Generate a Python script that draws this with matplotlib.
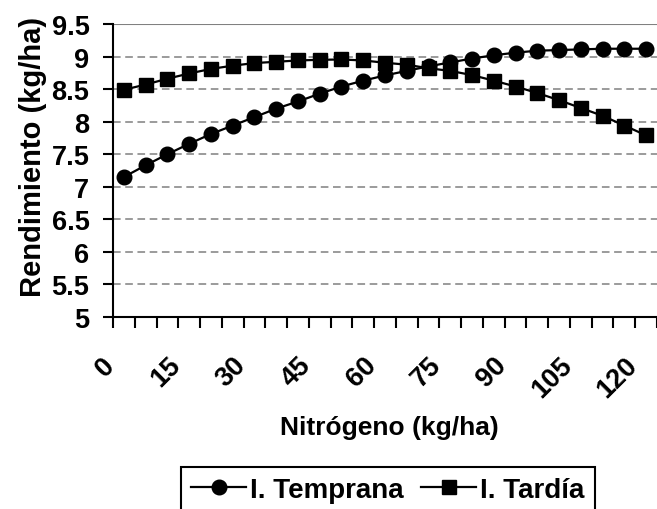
import matplotlib
matplotlib.use("Agg")
import matplotlib.pyplot as plt
import matplotlib.transforms as mtransforms

plt.rcParams['font.family'] = ['Liberation Sans', 'DejaVu Sans']
plt.rcParams['font.weight'] = 'bold'

# nitrogen doses (kg/ha), one category every 5
nitrogeno = list(range(0, 125, 5))
x_labels = [str(n) if n % 15 == 0 else '' for n in nitrogeno]

# yield (kg/ha)
temprana = [7.15, 7.33, 7.50, 7.66, 7.81, 7.94, 8.07, 8.20, 8.31, 8.43,
            8.54, 8.63, 8.71, 8.78, 8.85, 8.91, 8.97, 9.02, 9.06, 9.09,
            9.10, 9.11, 9.12, 9.12, 9.12]
tardia = [8.49, 8.57, 8.66, 8.74, 8.81, 8.86, 8.90, 8.92, 8.94, 8.95,
          8.955, 8.94, 8.905, 8.875, 8.82, 8.78, 8.715, 8.63, 8.54, 8.44,
          8.33, 8.21, 8.09, 7.94, 7.79]

y_ticks = [5, 5.5, 6, 6.5, 7, 7.5, 8, 8.5, 9, 9.5]

W, H = 657, 510
fig = plt.figure(figsize=(W / 100, H / 100), dpi=100)
ax = fig.add_axes([113 / W, 1 - 318 / H, (W - 113) / W, (318 - 25) / H])

pos = list(range(len(nitrogeno)))

# dashed gridlines, solid gray top border
for yv in y_ticks[1:-1]:
    ax.axhline(yv, color='#808080', lw=1.1, ls=(0, (5, 3)), zorder=1)
ax.axhline(9.5, color='#808080', lw=1.5, zorder=1)

ax.plot(pos, temprana, color='black', lw=1.6, marker='o', markersize=10.5,
        label='I. Temprana', clip_on=False, zorder=3)
ax.plot(pos, tardia, color='black', lw=1.6, marker='s', markersize=10,
        label='I. Tardía', clip_on=False, zorder=3)

ax.set_xlim(-0.5, -0.5 + (W - 113) / 22.0)
ax.set_ylim(5, 9.5)

# category axis: tick marks between categories, labels on categories
ax.set_xticks([p - 0.5 for p in pos] + [len(pos) - 0.5])
ax.set_xticklabels([])
ax.set_xticks(pos, minor=True)
ax.set_xticklabels(x_labels, minor=True, rotation=45, ha='right',
                   rotation_mode='anchor', fontsize=19.5, fontweight='bold')
ax.tick_params(axis='x', which='major', length=8, width=1.5, direction='out')
ax.tick_params(axis='x', which='minor', length=0, pad=25)
offset = mtransforms.ScaledTranslation(-22 / 100, 0, fig.dpi_scale_trans)
for lbl in ax.get_xticklabels(minor=True):
    lbl.set_transform(lbl.get_transform() + offset)

ax.set_yticks(y_ticks)
ax.set_yticklabels([f'{v:g}' for v in y_ticks], fontsize=19.5, fontweight='bold')
ax.tick_params(axis='y', length=7, width=1.5, pad=10)

for side in ['top', 'right']:
    ax.spines[side].set_visible(False)
for side in ['left', 'bottom']:
    ax.spines[side].set_linewidth(1.5)
    ax.spines[side].set_color('black')

fig.text(33 / W, 1 - 157 / H, 'Rendimiento (kg/ha)', rotation=90,
         ha='center', va='center', fontsize=21, fontweight='bold')
fig.text(389 / W, 1 - 428 / H, 'Nitrógeno (kg/ha)', ha='center',
         va='center', fontsize=19, fontweight='bold')

leg = fig.legend(loc='upper left', bbox_to_anchor=(181 / W, 1 - 468 / H),
                 ncol=2, frameon=True, fancybox=False, framealpha=1,
                 edgecolor='black', borderaxespad=0, borderpad=0.35,
                 handlelength=2.0, handletextpad=0.15, columnspacing=0.6,
                 prop={'size': 20, 'weight': 'bold'})
leg.get_frame().set_linewidth(1.5)

fig.savefig('out.png', dpi=100)
